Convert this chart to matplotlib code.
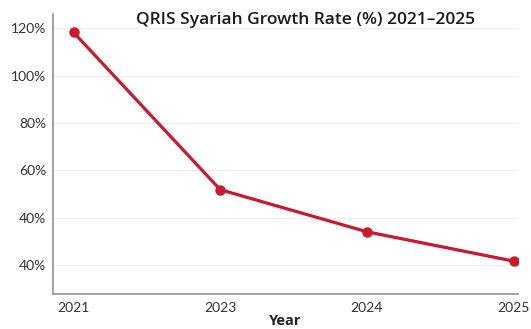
import matplotlib.pyplot as plt

years = ['2021', '2023', '2024', '2025']
growth = [118.3, 51.8, 34.0, 21.6]

ytick_values = [20, 40, 60, 80, 100, 120]
ytick_labels = ['40%', '40%', '60%', '80%', '100%', '120%']

plt.rcParams['font.family'] = ['Lato', 'DejaVu Sans']

fig = plt.figure(figsize=(5.31, 3.29), dpi=100)
ax = fig.add_axes([0.0998, 0.1064, 0.8757, 0.8506])

x = list(range(len(years)))
ax.plot(x, growth, color='#C8192E', linewidth=2.3, marker='o',
        markersize=6.5, solid_capstyle='round', zorder=3)

ax.set_xlim(-0.14, 3.03)
ax.set_ylim(7.7, 126)
ax.set_xticks(x)
ax.set_xticklabels(years)
ax.set_yticks(ytick_values)
ax.set_yticklabels(ytick_labels)

ax.grid(axis='y', color='#eeeeee', linewidth=0.8)
ax.set_axisbelow(True)
ax.tick_params(length=0, labelsize=10, colors='#333333', pad=5)
ax.tick_params(axis='x', pad=6)
for side in ['top', 'right']:
    ax.spines[side].set_visible(False)
for side in ['left', 'bottom']:
    ax.spines[side].set_color('#8a8a8a')
    ax.spines[side].set_linewidth(1.1)

ax.set_xlabel('Year', fontsize=10.5, fontweight='bold', color='#222222',
              family=['Open Sans', 'DejaVu Sans'], labelpad=0)
fig.text(0.575, 0.94, 'QRIS Syariah Growth Rate (%) 2021–2025',
         ha='center', va='center', fontsize=12.5, fontweight='semibold',
         color='#1a1a1a', family=['Open Sans', 'DejaVu Sans'])

fig.savefig('out.png', dpi=100)
